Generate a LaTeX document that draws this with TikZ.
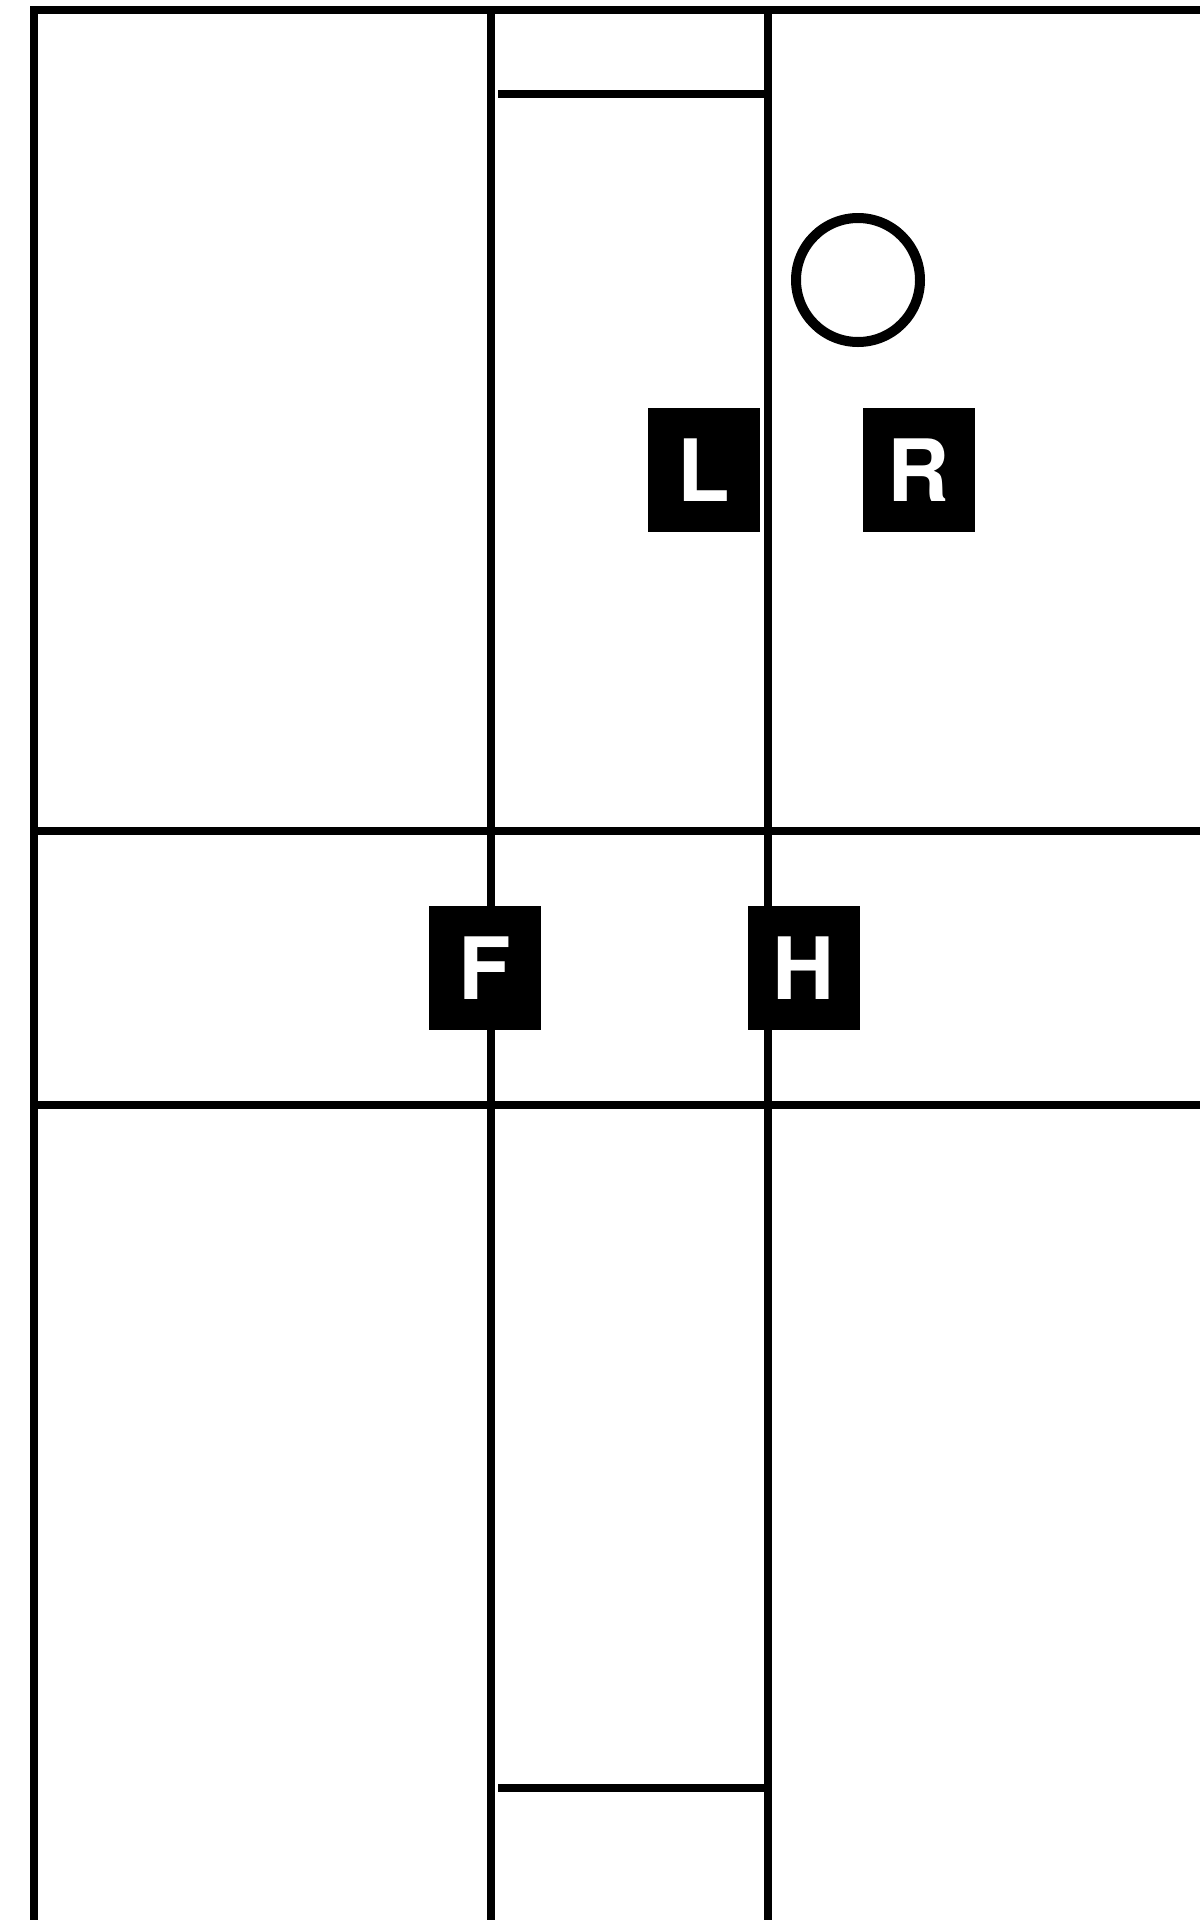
\documentclass[tikz,border=0pt]{standalone}
\usepackage{fontspec}
\setmainfont{TeX Gyre Heros}
\begin{document}
\begin{tikzpicture}[x=1pt,y=-1pt,
  wall/.style={line width=8pt,line cap=butt},
  tag/.style={fill=black,text=white,minimum width=112pt,minimum height=124pt,inner sep=0pt,
    font=\fontsize{86}{86}\selectfont\bfseries},
  ring/.style={draw=black,line width=10pt,circle,minimum size=124pt,inner sep=0pt}]
\useasboundingbox (0,0) rectangle (1200,1920);
\fill[white] (0,0) rectangle (1200,1920);
% grid lines
\draw[wall] (30,10) -- (1200,10);
\draw[wall] (34,6) -- (34,1920);
\draw[wall] (491,6) -- (491,1920);
\draw[wall] (768,6) -- (768,1920);
\draw[wall] (30,831) -- (1200,831);
\draw[wall] (30,1105) -- (1200,1105);
\draw[wall] (498,94) -- (768,94);
\draw[wall] (498,1788) -- (768,1788);
% circle
\node[ring] (o) at (858,280) {};
% tags
\node[tag] (l) at (704,470) {L};
\node[tag] (r) at (919,470) {R};
\node[tag] (f) at (485,968) {F};
\node[tag] (h) at (804,968) {H};
\end{tikzpicture}
\end{document}
